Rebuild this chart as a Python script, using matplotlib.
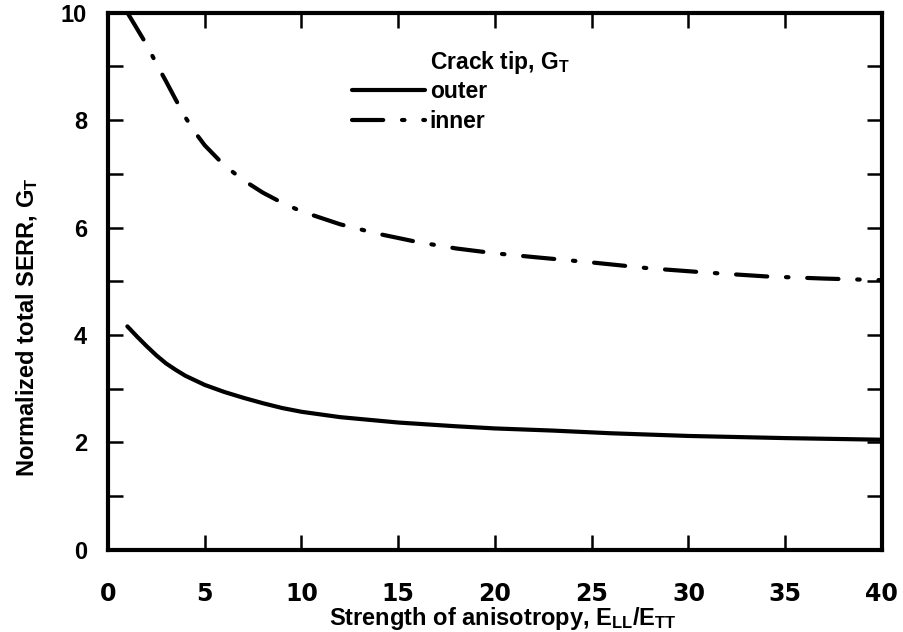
import numpy as np
import matplotlib
matplotlib.use("Agg")
import matplotlib.pyplot as plt
from matplotlib.ticker import MultipleLocator

# values
aniso_outer = [1, 1.5, 2, 2.5, 3, 3.5, 4, 5, 6, 7, 8, 9, 10, 12, 15, 18, 20,
               23, 26, 30, 35, 40]
g_outer = [4.16, 3.97, 3.79, 3.62, 3.47, 3.35, 3.24, 3.07, 2.94, 2.83, 2.73,
           2.64, 2.57, 2.47, 2.37, 2.30, 2.26, 2.22, 2.17, 2.12, 2.08, 2.05]

aniso_inner = [1, 1.5, 2, 2.5, 3, 3.5, 4, 4.5, 5, 6, 7, 8, 9, 10, 12, 14, 16,
               18, 20, 22, 25, 28, 31, 34, 37, 40]
g_inner = [10.0, 9.7, 9.4, 9.05, 8.72, 8.38, 8.05, 7.77, 7.53, 7.16, 6.88,
           6.65, 6.46, 6.3, 6.06, 5.88, 5.73, 5.61, 5.52, 5.45, 5.35, 5.24,
           5.16, 5.09, 5.05, 5.02]

xticks = [0, 5, 10, 15, 20, 25, 30, 35, 40]
yticks = [0, 2, 4, 6, 8, 10]

plt.rcParams["font.family"] = ["Liberation Sans", "DejaVu Sans"]
plt.rcParams["font.weight"] = "bold"

fig = plt.figure(figsize=(9.04, 6.32), dpi=100)
ax = fig.add_axes([0.1195, 0.130, 0.856, 0.850])

ax.plot(aniso_outer, g_outer, color="black", lw=3.0, solid_capstyle="round",
        solid_joinstyle="round", label="outer")
ax.plot(aniso_inner, g_inner, color="black", lw=3.0, dash_capstyle="round",
        dash_joinstyle="round", dashes=(7.5, 4.5, 0.6, 4.5), label="inner")

ax.set_xlim(0, 40)
ax.set_ylim(0, 10)
ax.set_xticks(xticks)
ax.set_yticks(yticks)
ax.yaxis.set_minor_locator(MultipleLocator(1))

for s in ax.spines.values():
    s.set_linewidth(3.0)

ax.tick_params(which="both", direction="in", top=True, right=True,
               width=1.8, length=11, color="black")
ax.tick_params(axis="y", which="both", labelsize=17, pad=15)
ax.tick_params(axis="x", labelsize=17, pad=23)
for lab in ax.get_xticklabels():
    lab.set_fontfamily("DejaVu Sans")
    lab.set_fontweight("bold")

ax.set_xlabel(r"Strength of anisotropy, E$\mathregular{_{LL}}$/E$\mathregular{_{TT}}$",
              fontsize=17, fontweight="bold")
ax.xaxis.set_label_coords(0.51, -0.102)
ax.set_ylabel(r"Normalized total SERR, G$\mathregular{_T}$",
              fontsize=17, fontweight="bold")
ax.yaxis.set_label_coords(-0.088, 0.415)

ax.text(0.416, 0.907, r"Crack tip, G$\mathregular{_T}$", transform=ax.transAxes,
        fontsize=16.5, fontweight="bold", ha="left", va="center")
ax.legend(loc="upper left", bbox_to_anchor=(0.315, 0.875), frameon=False,
          fontsize=16.5, handlelength=3.2, handletextpad=0.2,
          labelspacing=0.3, borderpad=0, borderaxespad=0)

fig.savefig("out.png", dpi=100, facecolor="white")
